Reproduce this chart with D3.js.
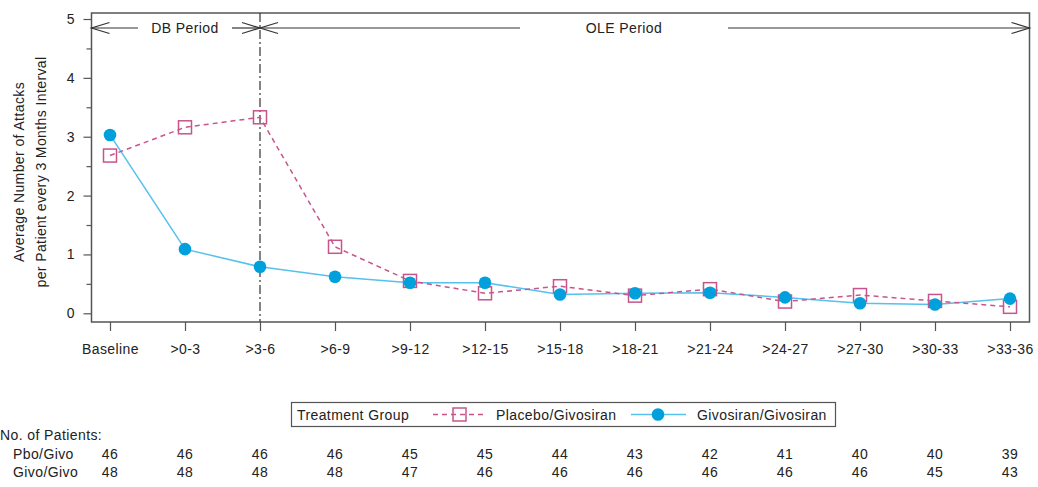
<!DOCTYPE html>
<html lang="en">
<head>
    <meta charset="UTF-8" />
    <title>Average Number of Attacks per 3 Months</title>
    <script src="https://d3js.org/d3.v7.min.js"></script>
    <style>
        body {
            margin: 0;
            background: #fff;
        }
        svg {
            display: block;
        }
        text {
            font-family: "Liberation Sans", Arial, sans-serif;
            font-size: 14px;
            letter-spacing: 0.4px;
            fill: #222;
        }
    </style>
</head>
<body>
    <svg id="chart"></svg>

    <script>
        // Data
        const categories = ["Baseline", ">0-3", ">3-6", ">6-9", ">9-12", ">12-15", ">15-18",
                            ">18-21", ">21-24", ">24-27", ">27-30", ">30-33", ">33-36"];
        const placeboValues = [2.68, 3.16, 3.33, 1.13, 0.55, 0.34, 0.46, 0.30, 0.41, 0.20, 0.31, 0.21, 0.11];
        const givoValues    = [3.03, 1.09, 0.79, 0.62, 0.52, 0.52, 0.32, 0.34, 0.35, 0.27, 0.17, 0.15, 0.25];
        const pboPatients   = [46, 46, 46, 46, 45, 45, 44, 43, 42, 41, 40, 40, 39];
        const givoPatients  = [48, 48, 48, 48, 47, 46, 46, 46, 46, 46, 46, 45, 43];
        const yTicks = [0, 1, 2, 3, 4, 5];
        const yMinorTicks = [0.5, 1.5, 2.5, 3.5, 4.5];

        const width = 1038, height = 487;
        const frame = { left: 91.5, top: 13, right: 1029.5, bottom: 322 };

        const pink = "#c8548c";
        const blueLine = "#55c1ec";
        const blueDot = "#00a0dc";
        const axisColor = "#555";

        const svg = d3.select("#chart")
            .attr("width", width)
            .attr("height", height);

        const x = d3.scalePoint()
            .domain(categories)
            .range([110, 1010]);

        const y = d3.scaleLinear()
            .domain([0, 5])
            .range([313.3, 19]);

        // plot frame
        svg.append("rect")
            .attr("x", frame.left)
            .attr("y", frame.top)
            .attr("width", frame.right - frame.left)
            .attr("height", frame.bottom - frame.top)
            .attr("fill", "none")
            .attr("stroke", axisColor)
            .attr("stroke-width", 1.5);

        // y axis (major + minor ticks)
        const yAxis = svg.append("g")
            .attr("transform", `translate(${frame.left},0)`)
            .call(d3.axisLeft(y).tickValues(yTicks).tickSize(8).tickPadding(9).tickFormat(d3.format("d")));
        yAxis.select(".domain").remove();
        yAxis.selectAll("line").attr("stroke", axisColor).attr("stroke-width", 1.2);
        yAxis.selectAll("text").attr("font-size", 14).style("letter-spacing", "0px").attr("fill", "#222").attr("font-family", null);

        const yMinor = svg.append("g")
            .attr("transform", `translate(${frame.left},0)`)
            .call(d3.axisLeft(y).tickValues(yMinorTicks).tickSize(5).tickFormat(""));
        yMinor.select(".domain").remove();
        yMinor.selectAll("line").attr("stroke", axisColor).attr("stroke-width", 1.2);

        // x axis
        const xAxis = svg.append("g")
            .attr("transform", `translate(0,${frame.bottom})`)
            .call(d3.axisBottom(x).tickSize(9).tickPadding(9));
        xAxis.select(".domain").remove();
        xAxis.selectAll("line").attr("stroke", axisColor).attr("stroke-width", 1.2);
        xAxis.selectAll("text").attr("font-size", 14).attr("fill", "#222").attr("font-family", null)
            .attr("dy", null).attr("y", 31.5);

        // y axis title
        const titleLines = ["Average Number of Attacks", "per Patient every 3 Months Interval"];
        svg.selectAll(".ytitle")
            .data(titleLines)
            .enter().append("text")
            .attr("class", "ytitle")
            .attr("text-anchor", "middle")
            .attr("transform", (d, i) => `translate(${24 + i * 21.5},172) rotate(-90)`)
            .text(d => d);

        // dash-dot separator between DB and OLE periods
        svg.append("line")
            .attr("x1", x(">3-6")).attr("x2", x(">3-6"))
            .attr("y1", frame.top).attr("y2", frame.bottom)
            .attr("stroke", "#333")
            .attr("stroke-width", 1.2)
            .attr("stroke-dasharray", "9,3,2,3");

        // period arrows
        const arrowY = 28;
        const periods = [
            { label: "DB Period", x0: frame.left, x1: x(">3-6"), mid: 185, gap: 47 },
            { label: "OLE Period", x0: x(">3-6"), x1: frame.right, mid: 624, gap: 104 }
        ];
        const arrows = svg.append("g")
            .attr("stroke", "#333")
            .attr("stroke-width", 1.2)
            .attr("fill", "none");
        periods.forEach(p => {
            arrows.append("line").attr("x1", p.x0).attr("x2", p.mid - p.gap).attr("y1", arrowY).attr("y2", arrowY);
            arrows.append("line").attr("x1", p.mid + p.gap).attr("x2", p.x1).attr("y1", arrowY).attr("y2", arrowY);
            arrows.append("path").attr("d", `M${p.x0 + 18},${arrowY - 5.5}L${p.x0},${arrowY}L${p.x0 + 18},${arrowY + 5.5}`);
            arrows.append("path").attr("d", `M${p.x1 - 18},${arrowY - 5.5}L${p.x1},${arrowY}L${p.x1 - 18},${arrowY + 5.5}`);
            svg.append("text")
                .attr("x", p.mid)
                .attr("y", arrowY + 5)
                .attr("text-anchor", "middle")
                .text(p.label);
        });

        // series lines
        const line = d3.line()
            .x((d, i) => x(categories[i]))
            .y(d => y(d));

        svg.append("path")
            .datum(givoValues)
            .attr("d", line)
            .attr("fill", "none")
            .attr("stroke", blueLine)
            .attr("stroke-width", 1.5);

        svg.append("path")
            .datum(placeboValues)
            .attr("d", line)
            .attr("fill", "none")
            .attr("stroke", pink)
            .attr("stroke-width", 1.5)
            .attr("stroke-dasharray", "5,4");

        // markers
        svg.selectAll(".pbo")
            .data(placeboValues)
            .enter().append("rect")
            .attr("class", "pbo")
            .attr("x", (d, i) => x(categories[i]) - 6.5)
            .attr("y", d => y(d) - 6.5)
            .attr("width", 13)
            .attr("height", 13)
            .attr("fill", "none")
            .attr("stroke", pink)
            .attr("stroke-width", 1.5);

        svg.selectAll(".givo")
            .data(givoValues)
            .enter().append("circle")
            .attr("class", "givo")
            .attr("cx", (d, i) => x(categories[i]))
            .attr("cy", d => y(d))
            .attr("r", 6.3)
            .attr("fill", blueDot);

        // legend
        const legend = svg.append("g");
        legend.append("rect")
            .attr("x", 291.5).attr("y", 402.5)
            .attr("width", 544).attr("height", 24)
            .attr("fill", "none")
            .attr("stroke", axisColor)
            .attr("stroke-width", 1.2);
        legend.append("text").attr("x", 297).attr("y", 420).text("Treatment Group");
        legend.append("line")
            .attr("x1", 433).attr("x2", 486).attr("y1", 414.5).attr("y2", 414.5)
            .attr("stroke", pink).attr("stroke-width", 1.5).attr("stroke-dasharray", "5,4");
        legend.append("rect")
            .attr("x", 453).attr("y", 408).attr("width", 13).attr("height", 13)
            .attr("fill", "none").attr("stroke", pink).attr("stroke-width", 1.5);
        legend.append("text").attr("x", 496).attr("y", 420).text("Placebo/Givosiran");
        legend.append("line")
            .attr("x1", 631).attr("x2", 686).attr("y1", 414.5).attr("y2", 414.5)
            .attr("stroke", blueLine).attr("stroke-width", 1.5);
        legend.append("circle")
            .attr("cx", 658).attr("cy", 414.5).attr("r", 6.3).attr("fill", blueDot);
        legend.append("text").attr("x", 697).attr("y", 420).text("Givosiran/Givosiran");

        // number of patients table
        svg.append("text").attr("x", 0).attr("y", 440).text("No. of Patients:");
        const rows = [
            { label: "Pbo/Givo", values: pboPatients, y: 458.5 },
            { label: "Givo/Givo", values: givoPatients, y: 476.5 }
        ];
        rows.forEach(r => {
            svg.append("text").attr("x", 13).attr("y", r.y).text(r.label);
            svg.selectAll(null)
                .data(r.values)
                .enter().append("text")
                .attr("x", (d, i) => x(categories[i]))
                .attr("y", r.y)
                .attr("text-anchor", "middle")
                .text(d => d);
        });
    </script>
</body>
</html>
